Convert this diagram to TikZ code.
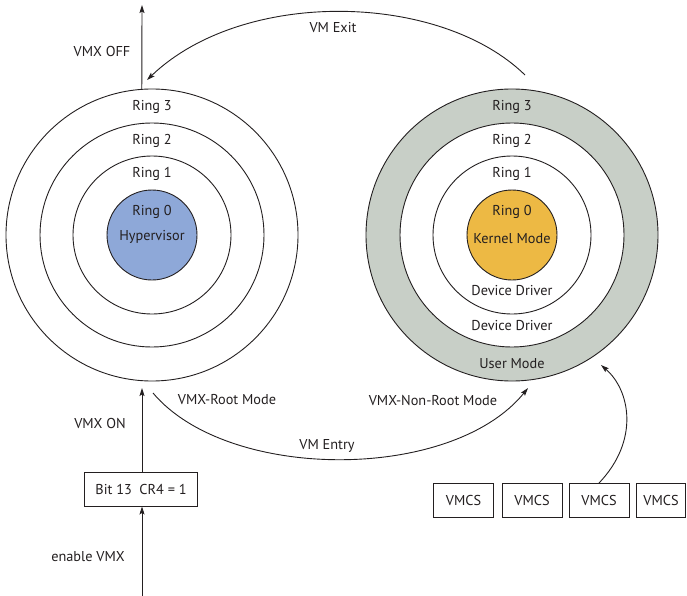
\documentclass[tikz,border=0pt]{standalone}
\usepackage{fontspec}
\setmainfont{PT Sans}
\usetikzlibrary{arrows.meta}
\definecolor{hypblue}{HTML}{8EA8D8}
\definecolor{kernorange}{HTML}{EDB944}
\definecolor{usergray}{HTML}{C8CFC7}
\definecolor{inkline}{HTML}{231F20}
\tikzset{
  ring/.style={circle, draw=inkline, line width=0.9pt, inner sep=0pt, minimum size=#1},
  lbl/.style={font=\fontsize{14.3}{16}\selectfont, text=inkline, inner sep=0pt},
  flow/.style={draw=inkline, line width=0.9pt, -{Stealth[length=8pt,width=5pt,inset=1.5pt]}},
  regbox/.style={draw=inkline, line width=0.9pt, inner sep=0pt, minimum height=34pt, font=\fontsize{14.3}{16}\selectfont, text=inkline}
}
\begin{document}
\begin{tikzpicture}[x=1pt,y=-1pt]
\useasboundingbox (0,0) rectangle (687,596);

% host side: VMX root mode rings
\node[ring=292pt] (L3) at (152,235) {};
\node[ring=224pt] (L2) at (152,235) {};
\node[ring=158pt] (L1) at (152,235) {};
\node[ring=90pt, fill=hypblue] (L0) at (152,235) {};
\node[lbl] (l3t) at (152,107) {Ring 3};
\node[lbl] (l2t) at (152,141) {Ring 2};
\node[lbl] (l1t) at (152,174) {Ring 1};
\node[lbl] (l0t) at (152,212) {Ring 0};
\node[lbl] (hyp) at (152,237) {Hypervisor};

% guest side: VMX non-root mode rings
\node[ring=292pt, fill=usergray] (R3) at (512,235) {};
\node[ring=224pt, fill=white] (R2) at (512,235) {};
\node[ring=158pt] (R1) at (512,235) {};
\node[ring=90pt, fill=kernorange] (R0) at (512,235) {};
\node[lbl] (r3t) at (512,107) {Ring 3};
\node[lbl] (r2t) at (512,141) {Ring 2};
\node[lbl] (r1t) at (512,174) {Ring 1};
\node[lbl] (r0t) at (512,212) {Ring 0};
\node[lbl] (kern) at (512,239) {Kernel Mode};
\node[lbl] (dd1) at (512,291) {Device Driver};
\node[lbl] (dd2) at (512,326) {Device Driver};
\node[lbl] (user) at (512,364) {User Mode};

% CR4 bit and the VMX on/off path
\node[regbox, minimum width=113pt] (cr4) at (141,489) {Bit 13\ \ CR4 = 1};
\coordinate (offend) at (142,5);
\coordinate (onend) at (142,388);
\coordinate (enstart) at (142,596);
\draw[flow] (L3.94) -- (offend);
\draw[flow] (cr4.north -| onend) -- (onend);
\draw[flow] (enstart) -- (cr4.south -| enstart);
\node[lbl] (voff) at (102,51) {VMX OFF};
\node[lbl] (von) at (100,423) {VMX ON};
\node[lbl] (ena) at (88,557) {enable VMX};

% VM exit and VM entry transitions
\coordinate (exitstart) at (525,75);
\coordinate (exitend) at (147,80);
\draw[flow] (exitstart) .. controls (440,-8) and (243,-12) .. (exitend);
\node[lbl] (vmexit) at (333,28) {VM Exit};

\coordinate (entrystart) at (153,393);
\coordinate (entryend) at (528,388);
\draw[flow] (entrystart) .. controls (228,482) and (452,482) .. (entryend);
\node[lbl] (vmentry) at (327,446) {VM Entry};
\node[lbl] (rootm) at (227,400) {VMX-Root Mode};
\node[lbl] (nonrootm) at (433,400) {VMX-Non-Root Mode};

% VMCS regions
\node[regbox, minimum width=60pt] (vmcs1) at (463.5,500.5) {VMCS};
\node[regbox, minimum width=60pt] (vmcs2) at (532,500.5) {VMCS};
\node[regbox, minimum width=60pt] (vmcs3) at (599,500.5) {VMCS};
\node[regbox, minimum width=49pt] (vmcs4) at (661,500.5) {VMCS};
\coordinate (vmcsend) at (601,365);
\draw[flow] (vmcs3.north) .. controls (640,440) and (630,390) .. (vmcsend);
\end{tikzpicture}
\end{document}
